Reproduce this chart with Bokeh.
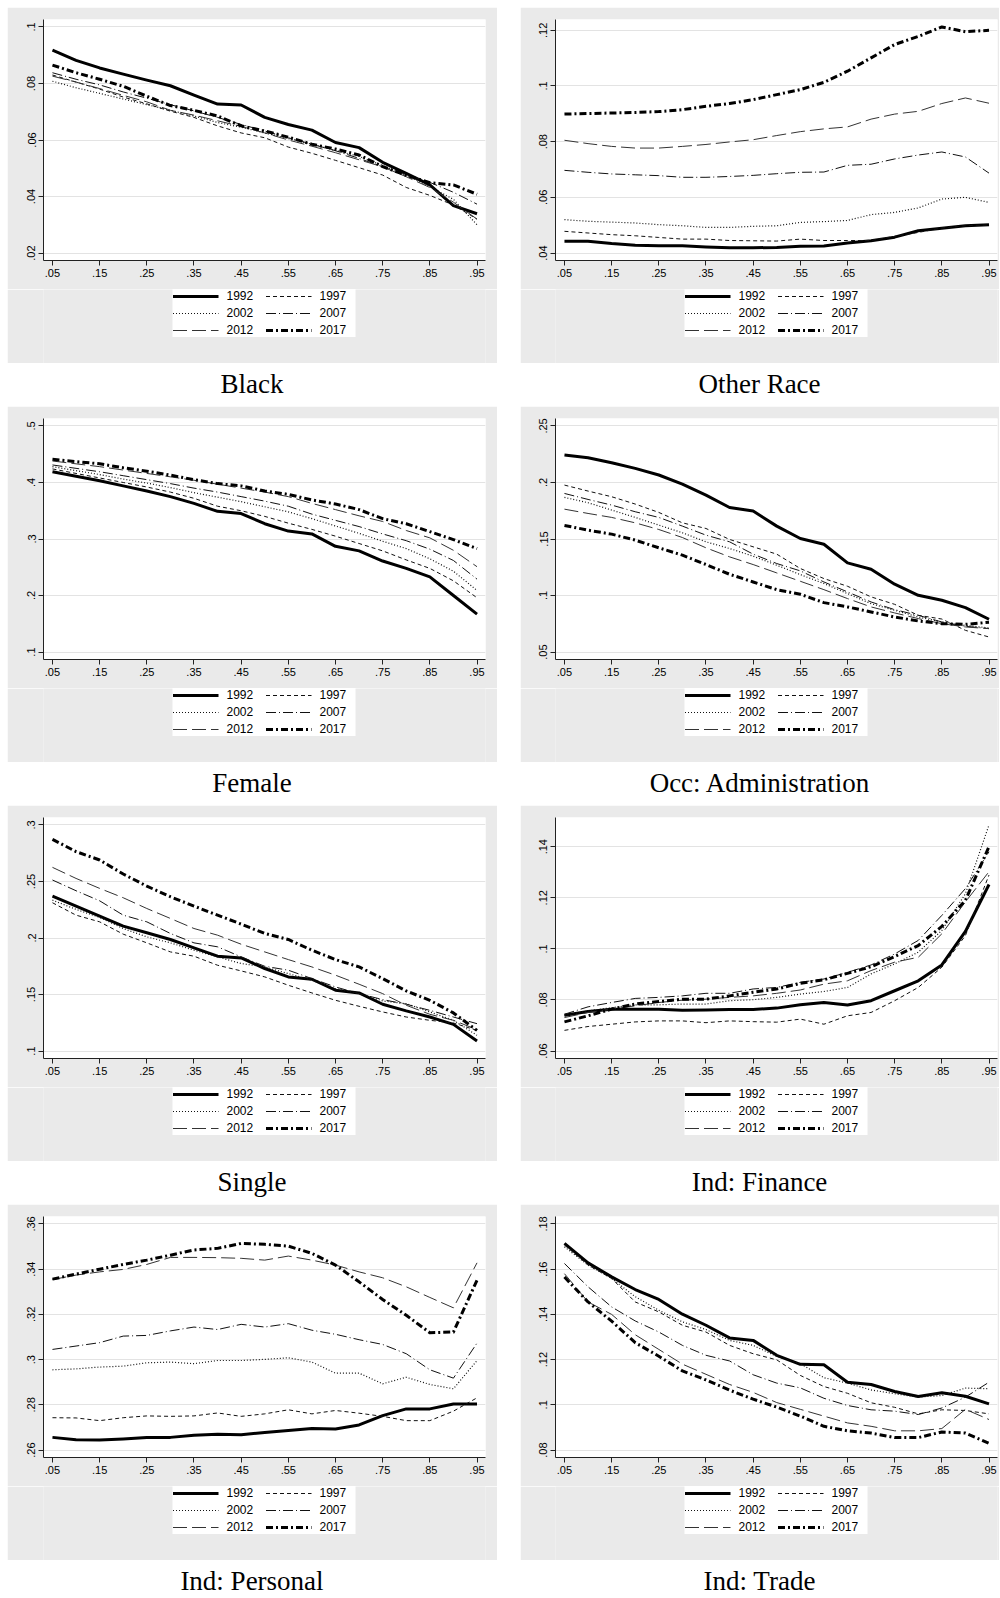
from bokeh.plotting import figure
from bokeh.models import Legend, LegendItem, FixedTicker, Div
from bokeh.layouts import row, column
from bokeh.embed import file_html
from bokeh.resources import INLINE

# ---------------- data ----------------
quantiles = [0.05, 0.10, 0.15, 0.20, 0.25, 0.30, 0.35, 0.40, 0.45, 0.50,
             0.55, 0.60, 0.65, 0.70, 0.75, 0.80, 0.85, 0.90, 0.95]
x_ticks = [0.05, 0.15, 0.25, 0.35, 0.45, 0.55, 0.65, 0.75, 0.85, 0.95]
x_tick_labels = [".05", ".15", ".25", ".35", ".45", ".55", ".65", ".75", ".85", ".95"]
years = ["1992", "1997", "2002", "2007", "2012", "2017"]

# Black
black_1992 = [.0918,.0882,.0855,.0833,.0812,.0792,.0759,.0727,.0724,.0680,.0655,.0635,.0591,.0573,.0521,.0482,.0441,.0368,.0339]
black_1997 = [.0830,.0805,.0780,.0752,.0728,.0702,.0680,.0650,.0625,.0608,.0575,.0553,.0528,.0502,.0476,.0432,.0404,.0370,.0320]
black_2002 = [.0808,.0785,.0765,.0745,.0725,.0705,.0685,.0662,.0645,.0625,.0605,.0585,.0563,.0542,.0510,.0475,.0435,.0390,.0300]
black_2007 = [.0838,.0815,.0795,.0770,.0748,.0725,.0703,.0680,.0655,.0632,.0608,.0585,.0562,.0535,.0505,.0478,.0450,.0415,.0373]
black_2012 = [.0826,.0805,.0782,.0758,.0735,.0705,.0688,.0668,.0648,.0625,.0600,.0578,.0555,.0530,.0505,.0470,.0432,.0380,.0320]
black_2017 = [.0865,.0838,.0815,.0790,.0755,.0722,.0705,.0685,.0650,.0632,.0610,.0585,.0568,.0547,.0506,.0475,.0449,.0441,.0408]
black_yticks = [0.02, 0.04, 0.06, 0.08, 0.1]
black_ylabels = [".02", ".04", ".06", ".08", ".1"]

# Other Race
other_1992 = [.0442,.0442,.0434,.0428,.0426,.0426,.0422,.0419,.0419,.0420,.0424,.0425,.0436,.0444,.0457,.0480,.0489,.0498,.0502]
other_1997 = [.0478,.0472,.0466,.0462,.0456,.0450,.0450,.0445,.0444,.0443,.0450,.0445,.0445,.0445,.0460,.0474,.0490,.0498,.0501]
other_2002 = [.0520,.0514,.0511,.0508,.0502,.0498,.0492,.0492,.0496,.0498,.0510,.0513,.0517,.0538,.0546,.0562,.0594,.0600,.0582]
other_2007 = [.0697,.0690,.0684,.0681,.0678,.0672,.0672,.0675,.0679,.0685,.0690,.0691,.0715,.0719,.0738,.0752,.0763,.0745,.0687]
other_2012 = [.0805,.0793,.0783,.0777,.0777,.0783,.0790,.0799,.0807,.0822,.0836,.0846,.0853,.0881,.0899,.0909,.0937,.0957,.0938]
other_2017 = [.0899,.0901,.0903,.0905,.0908,.0915,.0927,.0937,.0951,.0969,.0987,.1013,.1053,.1101,.1149,.1178,.1212,.1195,.1200]
other_yticks = [0.04, 0.06, 0.08, 0.1, 0.12]
other_ylabels = [".04", ".06", ".08", ".1", ".12"]

# Female
female_1992 = [.419,.411,.403,.394,.385,.375,.363,.349,.345,.327,.314,.309,.287,.279,.261,.248,.233,.200,.167]
female_1997 = [.424,.416,.408,.400,.392,.383,.372,.358,.350,.340,.328,.317,.305,.292,.279,.263,.248,.226,.196]
female_2002 = [.428,.421,.414,.406,.399,.391,.382,.374,.366,.357,.348,.336,.323,.310,.296,.283,.265,.243,.209]
female_2007 = [.431,.425,.419,.412,.405,.398,.390,.383,.375,.367,.358,.344,.333,.322,.309,.297,.282,.262,.229]
female_2012 = [.438,.433,.428,.422,.416,.410,.404,.397,.390,.383,.375,.363,.352,.341,.331,.315,.302,.280,.251]
female_2017 = [.441,.437,.433,.426,.420,.413,.405,.398,.394,.385,.379,.369,.362,.352,.336,.327,.313,.299,.283]
female_yticks = [0.1, 0.2, 0.3, 0.4, 0.5]
female_ylabels = [".1", ".2", ".3", ".4", ".5"]

# Occ: Administration
admin_1992 = [.2243,.2219,.2175,.2125,.2066,.1986,.1888,.1779,.1747,.1614,.1504,.1454,.1289,.1233,.1100,.1002,.0958,.0893,.0790]
admin_1997 = [.1977,.1924,.1874,.1809,.1735,.1643,.1593,.1496,.1431,.1366,.1239,.1150,.1082,.0988,.0922,.0825,.0792,.0692,.0633]
admin_2002 = [.1868,.1821,.1756,.1691,.1623,.1555,.1475,.1416,.1348,.1268,.1185,.1106,.1017,.0928,.0869,.0810,.0766,.0736,.0713]
admin_2007 = [.1903,.1850,.1800,.1741,.1691,.1614,.1534,.1475,.1366,.1283,.1218,.1120,.1032,.0943,.0875,.0825,.0766,.0728,.0707]
admin_2012 = [.1764,.1726,.1691,.1643,.1584,.1513,.1422,.1342,.1274,.1200,.1126,.1052,.0973,.0899,.0846,.0796,.0751,.0722,.0707]
admin_2017 = [.1620,.1578,.1543,.1490,.1422,.1357,.1274,.1188,.1120,.1052,.1011,.0937,.0899,.0855,.0810,.0775,.0751,.0745,.0763]
admin_yticks = [0.05, 0.1, 0.15, 0.2, 0.25]
admin_ylabels = [".05", ".1", ".15", ".2", ".25"]

# Single
single_1992 = [.2371,.2282,.2193,.2105,.2046,.1987,.1913,.1839,.1824,.1730,.1656,.1635,.1538,.1514,.1414,.1355,.1301,.1236,.1089]
single_1997 = [.2312,.2202,.2143,.2034,.1957,.1877,.1839,.1759,.1709,.1656,.1582,.1514,.1449,.1396,.1346,.1301,.1272,.1248,.1183]
single_2002 = [.2335,.2253,.2182,.2084,.2010,.1957,.1892,.1833,.1774,.1744,.1685,.1626,.1552,.1508,.1443,.1419,.1346,.1272,.1139]
single_2007 = [.2513,.2418,.2329,.2202,.2143,.2040,.1957,.1922,.1833,.1750,.1715,.1641,.1567,.1508,.1455,.1414,.1360,.1301,.1242]
single_2012 = [.2625,.2527,.2439,.2356,.2261,.2173,.2084,.2025,.1945,.1877,.1809,.1744,.1671,.1591,.1508,.1405,.1325,.1272,.1189]
single_2017 = [.2873,.2764,.2690,.2566,.2459,.2365,.2282,.2202,.2123,.2040,.1987,.1892,.1809,.1744,.1641,.1532,.1449,.1337,.1183]
single_yticks = [0.1, 0.15, 0.2, 0.25, 0.3]
single_ylabels = [".1", ".15", ".2", ".25", ".3"]

# Ind: Finance
finance_1992 = [.0740,.0755,.0764,.0764,.0764,.0760,.0761,.0763,.0763,.0768,.0781,.0790,.0780,.0797,.0836,.0875,.0937,.1068,.1252]
finance_1997 = [.0681,.0696,.0705,.0714,.0718,.0718,.0711,.0718,.0715,.0713,.0725,.0705,.0738,.0751,.0797,.0849,.0928,.1052,.1289]
finance_2002 = [.0738,.0757,.0770,.0781,.0781,.0784,.0784,.0797,.0801,.0810,.0823,.0833,.0849,.0902,.0941,.0987,.1072,.1216,.1485]
finance_2007 = [.0744,.0773,.0790,.0806,.0810,.0816,.0826,.0826,.0843,.0849,.0869,.0882,.0908,.0937,.0980,.1033,.1131,.1236,.1380]
finance_2012 = [.0731,.0751,.0764,.0777,.0790,.0799,.0803,.0810,.0816,.0826,.0839,.0862,.0875,.0915,.0948,.0967,.1059,.1184,.1302]
finance_2017 = [.0714,.0738,.0764,.0784,.0794,.0803,.0803,.0816,.0830,.0843,.0865,.0879,.0904,.0930,.0970,.1013,.1088,.1190,.1400]
finance_yticks = [0.06, 0.08, 0.1, 0.12, 0.14]
finance_ylabels = [".06", ".08", ".1", ".12", ".14"]

# Ind: Personal
personal_1992 = [.2656,.2646,.2644,.2649,.2656,.2656,.2665,.2670,.2668,.2678,.2686,.2695,.2693,.2711,.2752,.2782,.2782,.2804,.2804]
personal_1997 = [.2743,.2742,.2730,.2743,.2751,.2749,.2751,.2764,.2749,.2760,.2778,.2760,.2775,.2763,.2749,.2730,.2730,.2772,.2831]
personal_2002 = [.2955,.2959,.2967,.2971,.2986,.2989,.2982,.2996,.2996,.3001,.3008,.2989,.2940,.2940,.2893,.2922,.2890,.2871,.2996]
personal_2007 = [.3045,.3060,.3075,.3104,.3107,.3127,.3144,.3133,.3156,.3144,.3159,.3130,.3112,.3088,.3067,.3026,.2955,.2918,.3073]
personal_2012 = [.3354,.3374,.3388,.3399,.3421,.3452,.3452,.3451,.3448,.3440,.3458,.3440,.3418,.3388,.3362,.3322,.3275,.3229,.3428]
personal_2017 = [.3356,.3378,.3400,.3421,.3440,.3462,.3485,.3492,.3514,.3510,.3502,.3470,.3418,.3344,.3266,.3196,.3119,.3122,.3351]
personal_yticks = [0.26, 0.28, 0.3, 0.32, 0.34, 0.36]
personal_ylabels = [".26", ".28", ".3", ".32", ".34", ".36"]

# Ind: Trade
trade_1992 = [.1714,.1628,.1566,.1510,.1466,.1401,.1352,.1296,.1285,.1219,.1179,.1177,.1100,.1090,.1059,.1037,.1053,.1038,.1004]
trade_1997 = [.1707,.1618,.1559,.1455,.1411,.1352,.1322,.1263,.1226,.1199,.1130,.1081,.1051,.1009,.0989,.0960,.0978,.0975,.0960]
trade_2002 = [.1699,.1618,.1559,.1478,.1418,.1367,.1333,.1285,.1263,.1214,.1182,.1120,.1096,.1066,.1049,.1034,.1041,.1074,.1071]
trade_2007 = [.1625,.1522,.1433,.1371,.1322,.1263,.1219,.1194,.1133,.1096,.1075,.1029,.0997,.0978,.0972,.0957,.0986,.1034,.1100]
trade_2012 = [.1580,.1455,.1400,.1310,.1245,.1180,.1135,.1090,.1055,.1010,.0980,.0950,.0920,.0905,.0885,.0885,.0895,.0980,.0935]
trade_2017 = [.1565,.1455,.1370,.1275,.1215,.1150,.1110,.1065,.1025,.0990,.0950,.0905,.0885,.0875,.0855,.0855,.0880,.0875,.0830]
trade_yticks = [0.08, 0.1, 0.12, 0.14, 0.16, 0.18]
trade_ylabels = [".08", ".1", ".12", ".14", ".16", ".18"]

# ---------------- styling ----------------
GRAY = "#eaeaea"
STYLES = {
    "1992": dict(line_color="#000000", line_width=3.0, line_dash="solid"),
    "1997": dict(line_color="#111111", line_width=1.0, line_dash="4 3"),
    "2002": dict(line_color="#111111", line_width=1.2, line_dash="1 2"),
    "2007": dict(line_color="#111111", line_width=1.0, line_dash="10 3 1 3"),
    "2012": dict(line_color="#333333", line_width=1.0, line_dash="14 5"),
    "2017": dict(line_color="#000000", line_width=3.0, line_dash="7 3 2 3"),
}
FRAME_W, FRAME_H = 442, 241
TOP, AXIS_H, LEG_H = 12, 29, 74   # 12 + 241 + 29 + 74 = 356


def make_panel(series, yticks, ylabels, left, right):
    allv = [v for s in series for v in s]
    lo = min(min(allv), yticks[0])
    hi = max(max(allv), yticks[-1])
    pad = (hi - lo) * 0.033
    p = figure(frame_width=FRAME_W, frame_height=FRAME_H,
               x_range=(0.031, 0.968), y_range=(lo - pad, hi + pad),
               output_backend="svg", toolbar_location=None, tools="",
               min_border_left=left, min_border_right=right, min_border_top=TOP,
               min_border_bottom=AXIS_H, border_fill_color=GRAY,
               background_fill_color="white", outline_line_color=None)
    p.xgrid.visible = False
    p.ygrid.ticker = FixedTicker(ticks=yticks)
    p.ygrid.grid_line_color = "#e3e3e3"
    p.ygrid.grid_line_width = 1

    for ax in (p.xaxis[0], p.yaxis[0]):
        ax.axis_line_color = "#222222"
        ax.major_tick_line_color = "#222222"
        ax.major_tick_out = 5
        ax.major_tick_in = 0
        ax.minor_tick_line_color = None
        ax.major_label_text_font = "Liberation Sans"
        ax.major_label_text_font_size = "11px"
        ax.major_label_text_color = "#000000"
        ax.major_label_standoff = 3

    p.xaxis.ticker = FixedTicker(ticks=x_ticks)
    p.xaxis.major_label_overrides = dict(zip(x_ticks, x_tick_labels))
    p.yaxis.ticker = FixedTicker(ticks=yticks)
    p.yaxis.major_label_overrides = dict(zip(yticks, ylabels))
    p.yaxis.major_label_orientation = "vertical"

    for yr, vals in zip(years, series):
        p.line(quantiles, vals, line_join="round", **STYLES[yr])
    return p


def make_legend_strip(series, left, right):
    # gray strip under the plot that carries the legend; the series are drawn
    # here too, but its y range lies far away from them so only the legend shows
    lf = figure(frame_width=FRAME_W, frame_height=LEG_H,
                x_range=(0, 1), y_range=(10, 11),
                x_axis_type=None, y_axis_type=None,
                output_backend="svg", toolbar_location=None, tools="",
                min_border_left=left, min_border_right=right,
                min_border_top=0, min_border_bottom=0,
                border_fill_color=GRAY, background_fill_color=GRAY,
                outline_line_color=None)
    lf.xgrid.visible = False
    lf.ygrid.visible = False
    items = []
    for yr, vals in zip(years, series):
        r = lf.line(quantiles, vals, **STYLES[yr])
        items.append(LegendItem(label=yr, renderers=[r]))
    legend = Legend(items=items, location="top_center",
                    orientation="horizontal", ncols=2,
                    glyph_width=46, glyph_height=12, label_height=12, label_width=36,
                    label_standoff=8, spacing=3, padding=9, margin=0,
                    label_text_font="Liberation Sans", label_text_font_size="12px",
                    label_text_color="#000000",
                    border_line_color=None, background_fill_color="white",
                    background_fill_alpha=1.0)
    lf.add_layout(legend)
    return lf


def make_title(text, width, height):
    html = ('<div style="width:%dpx;text-align:center;font-family:\'Liberation Serif\',serif;'
            'font-size:27px;line-height:27px;color:#000;padding-top:8px;white-space:nowrap">%s</div>'
            % (width, text))
    return Div(text=html, width=width, height=height, margin=(0, 0, 0, 0))


panels = [
    ("Black", [black_1992, black_1997, black_2002, black_2007, black_2012, black_2017], black_yticks, black_ylabels),
    ("Other Race", [other_1992, other_1997, other_2002, other_2007, other_2012, other_2017], other_yticks, other_ylabels),
    ("Female", [female_1992, female_1997, female_2002, female_2007, female_2012, female_2017], female_yticks, female_ylabels),
    ("Occ: Administration", [admin_1992, admin_1997, admin_2002, admin_2007, admin_2012, admin_2017], admin_yticks, admin_ylabels),
    ("Single", [single_1992, single_1997, single_2002, single_2007, single_2012, single_2017], single_yticks, single_ylabels),
    ("Ind: Finance", [finance_1992, finance_1997, finance_2002, finance_2007, finance_2012, finance_2017], finance_yticks, finance_ylabels),
    ("Ind: Personal", [personal_1992, personal_1997, personal_2002, personal_2007, personal_2012, personal_2017], personal_yticks, personal_ylabels),
    ("Ind: Trade", [trade_1992, trade_1997, trade_2002, trade_2007, trade_2012, trade_2017], trade_yticks, trade_ylabels),
]

rows = []
for i in range(0, 8, 2):
    cells = []
    for j, (w, left, right) in enumerate([(490, 36, 12), (479, 35, 2)]):
        title, series, yt, yl = panels[i + j]
        fig = make_panel(series, yt, yl, left, right)
        strip = make_legend_strip(series, left, right)
        cells.append(column(fig, strip, make_title(title, w, 43), spacing=0))
    rows.append(row(*cells, spacing=23))

layout = column(*rows, spacing=0)
layout.margin = (7, 0, 0, 7)

with open("out.html", "w") as f:
    f.write(file_html(layout, INLINE))
